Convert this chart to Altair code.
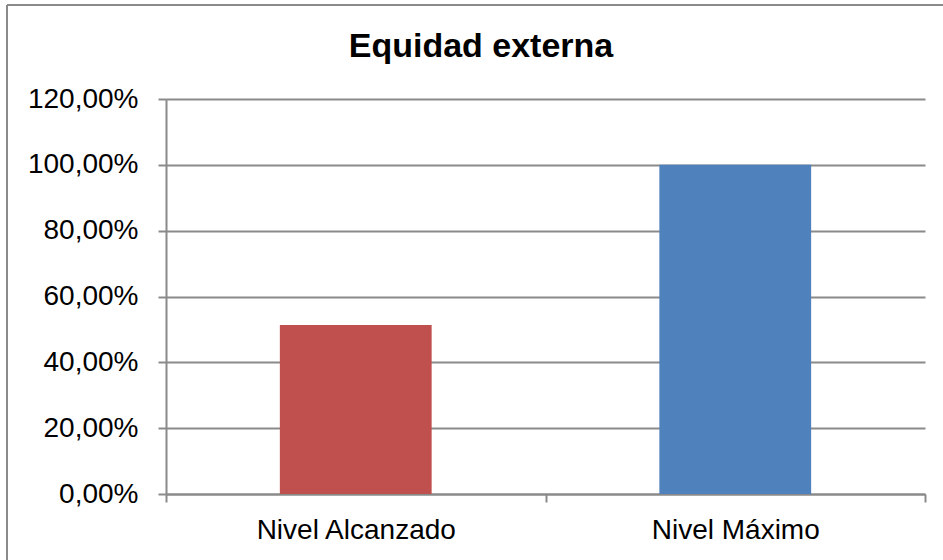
import altair as alt
import pandas as pd

# Chart data
categories = ["Nivel Alcanzado", "Nivel Máximo"]
values = [0.5135, 1.0]
bar_colors = ["#C0504D", "#4F81BD"]
y_ticks = [0, 0.2, 0.4, 0.6, 0.8, 1.0, 1.2]
title_text = "Equidad externa"

PLOT_W, PLOT_H = 759, 395
LINE = "#8a8a8a"
FONT = "Liberation Sans"

df = pd.DataFrame({"nivel": categories, "valor": values, "color": bar_colors})

bars = alt.Chart(df).mark_bar(width=alt.RelativeBandSize(0.4)).encode(
    x=alt.X(
        "nivel:N",
        sort=categories,
        title=None,
        scale=alt.Scale(paddingInner=0, paddingOuter=0),
        axis=alt.Axis(
            labelAngle=0,
            tickBand="extent",
            labelFontSize=28,
            labelColor="black",
            labelFont=FONT,
            labelLimit=0,
            tickSize=8,
            tickColor=LINE,
            tickWidth=2,
            domainColor=LINE,
            domainWidth=2,
            labelPadding=14,
            grid=False,
        ),
    ),
    y=alt.Y(
        "valor:Q",
        title=None,
        scale=alt.Scale(domain=[0, 1.2], nice=False),
        axis=alt.Axis(
            values=y_ticks,
            labelExpr="replace(format(datum.value, '.2%'), '.', ',')",
            labelFontSize=28,
            labelColor="black",
            labelFont=FONT,
            tickSize=8,
            tickColor=LINE,
            tickWidth=2,
            domainColor=LINE,
            domainWidth=2,
            labelPadding=20,
            grid=True,
            gridColor=LINE,
            gridWidth=2,
        ),
    ),
    color=alt.Color("color:N", scale=None, legend=None),
)

# Outer frame of the chart (top and left edges)
one = pd.DataFrame({"k": [0]})
frame_top = alt.Chart(one).mark_rule(color=LINE, strokeWidth=2).encode(
    x=alt.value(-159), x2=alt.value(800), y=alt.value(-94)
)
frame_left = alt.Chart(one).mark_rule(color=LINE, strokeWidth=2).encode(
    x=alt.value(-159), y=alt.value(-94), y2=alt.value(470)
)

title = alt.Chart(pd.DataFrame({"t": [title_text]})).mark_text(
    fontSize=34, fontWeight="bold", font=FONT, color="black",
    align="center", baseline="alphabetic",
).encode(text="t:N", x=alt.value(315), y=alt.value(-42))

chart = alt.layer(bars, frame_top, frame_left, title).properties(
    width=PLOT_W,
    height=PLOT_H,
    autosize=alt.AutoSizeParams(type="none"),
    padding={"left": 166, "top": 99, "right": 18, "bottom": 66},
    background="white",
).configure_view(stroke=None)

chart.save("out.html", embed_options={"renderer": "svg", "actions": False})
